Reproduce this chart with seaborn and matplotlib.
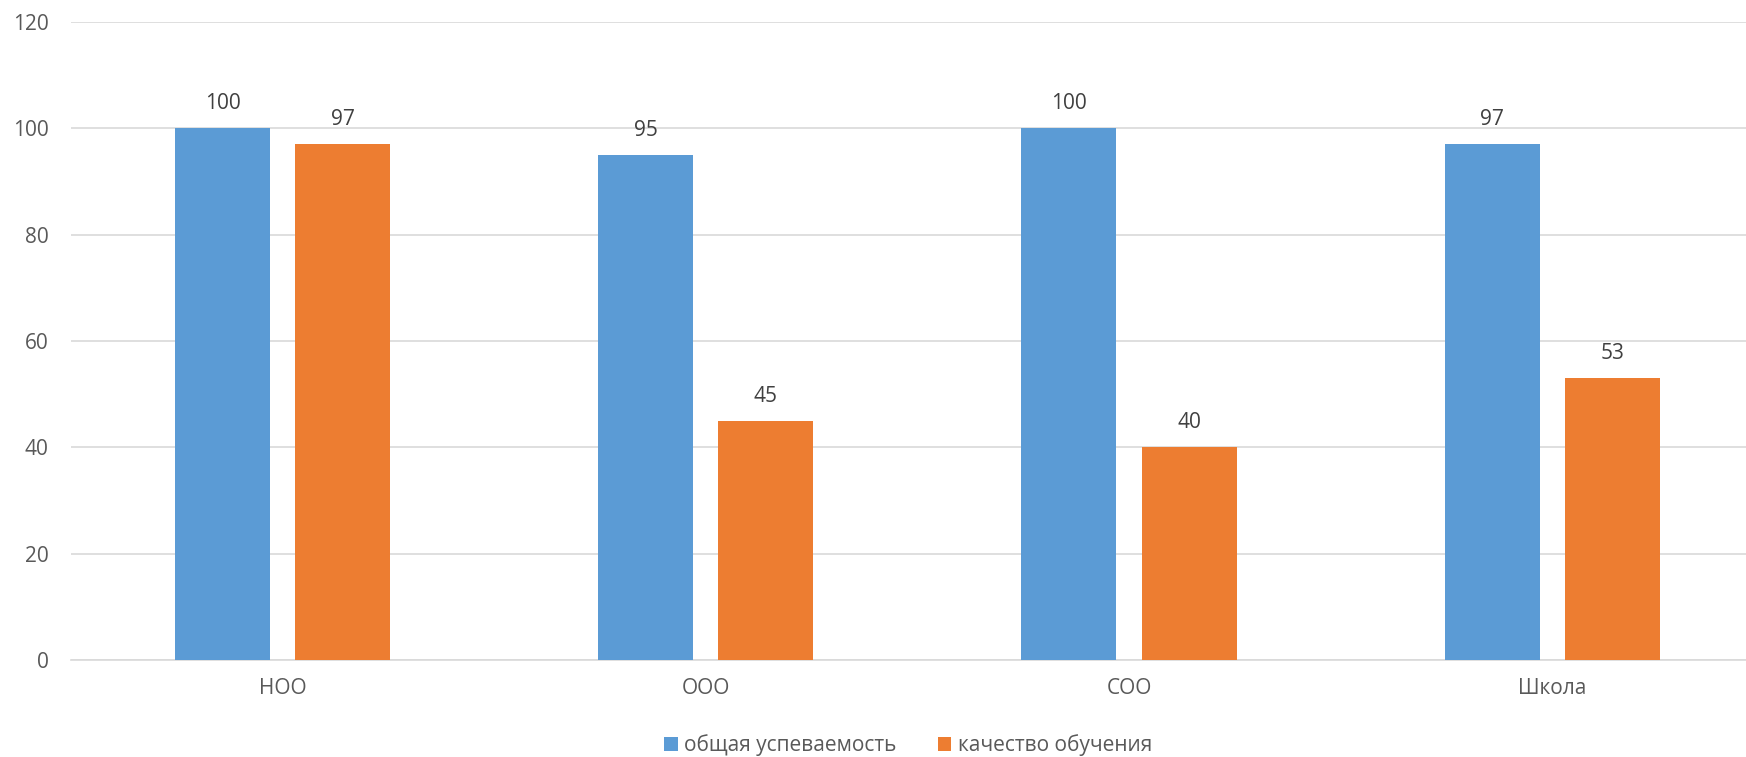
import matplotlib
matplotlib.use("Agg")
import matplotlib.pyplot as plt
import seaborn as sns
import pandas as pd
from matplotlib.patches import Patch

categories = ["НОО", "ООО", "СОО", "Школа"]
series_names = ["общая успеваемость", "качество обучения"]
uspevaemost = [100, 95, 100, 97]
kachestvo = [97, 45, 40, 53]
y_ticks = [0, 20, 40, 60, 80, 100, 120]
colors = ["#5b9bd5", "#ed7d31"]

df = pd.DataFrame({
    "cat": categories * 2,
    "series": [series_names[0]] * 4 + [series_names[1]] * 4,
    "value": uspevaemost + kachestvo,
})

sns.set_theme(style="white")
plt.rcParams["font.family"] = ["Open Sans", "DejaVu Sans"]

fig = plt.figure(figsize=(17.46, 7.57), dpi=100)
ax = fig.add_axes([71 / 1746, (757 - 660) / 757, 1 - 71 / 1746, (660 - 22) / 757])

sns.barplot(data=df, x="cat", y="value", hue="series", order=categories,
            hue_order=series_names, palette=colors, width=0.568, gap=0.21,
            saturation=1, errorbar=None, legend=False, ax=ax, zorder=3,
            linewidth=0)

for c in ax.containers:
    ax.bar_label(c, labels=[f"{v:g}" for v in c.datavalues], padding=10,
                 fontsize=15, color="#404040")

ax.set_ylim(0, 120)
ax.set_xlim(-0.5, 3.458)
ax.set_yticks(y_ticks)
ax.yaxis.grid(True, color="#d9d9d9", linewidth=1.2, zorder=0)
ax.set_axisbelow(True)
for s in ["top", "right", "left"]:
    ax.spines[s].set_visible(False)
ax.spines["bottom"].set_color("#d9d9d9")
ax.spines["bottom"].set_linewidth(1.2)
ax.tick_params(axis="y", length=0, pad=16, labelsize=15, labelcolor="#595959")
ax.tick_params(axis="x", length=0, pad=13, labelsize=15, labelcolor="#595959")
ax.set_xlabel("")
ax.set_ylabel("")

handles = [Patch(facecolor=col, edgecolor="none") for col in colors]
fig.legend(handles, series_names, loc="center", bbox_to_anchor=(0.52, 1 - 745 / 757),
           ncol=2, frameon=False, fontsize=15, labelcolor="#595959",
           handlelength=0.65, handleheight=0.65, handletextpad=0.3, columnspacing=2.0)

fig.savefig("out.png", dpi=100)
